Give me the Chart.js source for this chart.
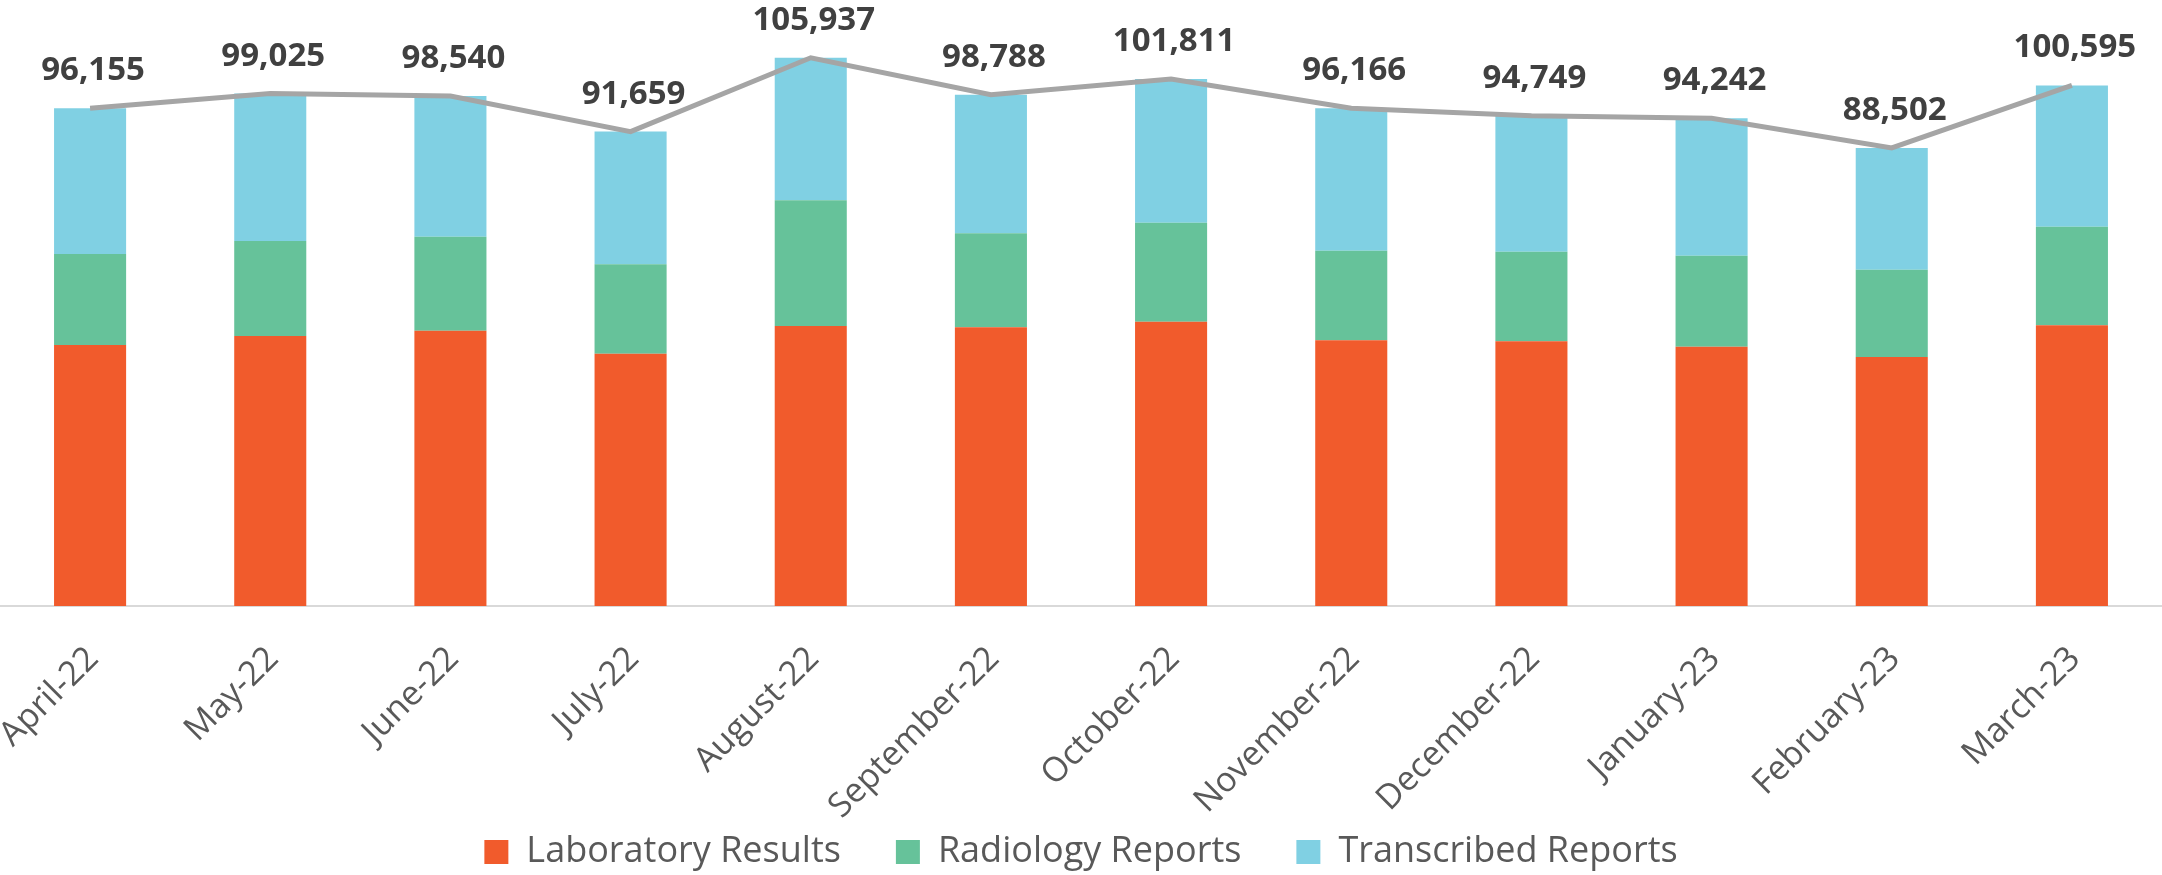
<!DOCTYPE html>
<html>
<head>
<meta charset="utf-8">
<script src="https://cdn.jsdelivr.net/npm/chart.js@4/dist/chart.umd.min.js"></script>
<style>
  html, body { margin: 0; padding: 0; background: #ffffff; }
  #wrap { width: 2162px; height: 875px; position: relative; }
</style>
</head>
<body>
<div id="wrap"><canvas id="c"></canvas></div>
<script>
const categories = ['April-22','May-22','June-22','July-22','August-22','September-22','October-22','November-22','December-22','January-23','February-23','March-23'];
const laboratoryResults = [50430, 52160, 53190, 48740, 54100, 53850, 54930, 51330, 51140, 50100, 48110, 54230];
const radiologyReports = [17580, 18350, 18160, 17270, 24290, 18160, 19130, 17310, 17310, 17580, 16870, 19050];
const transcribedReports = [28145, 28515, 27190, 25649, 27547, 26778, 27751, 27526, 26299, 26562, 23522, 27315];
const totals = [96155, 99025, 98540, 91659, 105937, 98788, 101811, 96166, 94749, 94242, 88502, 100595];
const seriesNames = ['Laboratory Results', 'Radiology Reports', 'Transcribed Reports'];

const totalLabels = {
  id: 'totalLabels',
  afterDatasetsDraw(chart) {
    const meta = chart.getDatasetMeta(3);
    const ctx = chart.ctx;
    ctx.save();
    ctx.font = 'bold 33px "Open Sans"';
    ctx.fillStyle = '#404040';
    ctx.textAlign = 'center';
    ctx.textBaseline = 'alphabetic';
    meta.data.forEach((pt, i) => {
      ctx.fillText(totals[i].toLocaleString('en-US'), pt.x + 3, pt.y - 28);
    });
    ctx.restore();
  }
};

new Chart(document.getElementById('c'), {
  type: 'bar',
  data: {
    labels: categories,
    datasets: [
      { label: seriesNames[0], data: laboratoryResults, backgroundColor: '#F15B2C', borderWidth: 0, stack: 's', order: 2 },
      { label: seriesNames[1], data: radiologyReports, backgroundColor: '#66C29A', borderWidth: 0, stack: 's', order: 2 },
      { label: seriesNames[2], data: transcribedReports, backgroundColor: '#80D0E3', borderWidth: 0, stack: 's', order: 2 },
      { type: 'line', label: 'Total', data: totals, borderColor: '#A5A5A5', borderWidth: 5, pointRadius: 0, tension: 0, fill: false, stack: 'total', order: 0 }
    ]
  },
  options: {
    responsive: true,
    maintainAspectRatio: false,
    animation: false,
    devicePixelRatio: 1,
    datasets: { bar: { barPercentage: 0.4, categoryPercentage: 1.0 } },
    layout: { padding: { top: 16, left: 0, right: 0, bottom: -5 } },
    plugins: {
      tooltip: { enabled: false },
      legend: {
        position: 'bottom',
        labels: {
          filter: (item) => item.datasetIndex < 3,
          boxWidth: 24,
          boxHeight: 24,
          padding: 55,
          color: '#595959',
          font: { family: '"Open Sans"', size: 36 }
        }
      }
    },
    scales: {
      x: {
        stacked: true,
        grid: { display: false },
        border: { display: true, color: '#D9D9D9', width: 2 },
        ticks: {
          autoSkip: false,
          minRotation: 45,
          maxRotation: 45,
          color: '#595959',
          font: { family: '"Open Sans"', size: 34 },
          padding: 25,
          labelOffset: 3
        },
        afterFit(scale) {
          scale.height = 173;
          scale.paddingLeft = 0;
          scale.paddingRight = 0;
          scale._computeLabelArea = function () { return undefined; };
        }
      },
      y: { stacked: true, display: false, min: 0, max: 114000 }
    }
  },
  plugins: [totalLabels]
});
</script>
</body>
</html>
